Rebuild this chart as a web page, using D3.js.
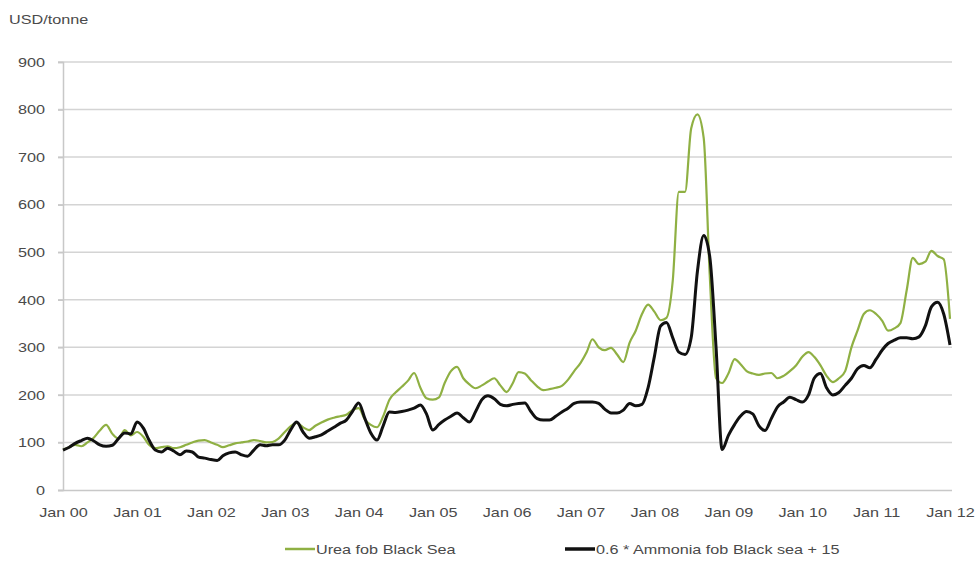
<!DOCTYPE html>
<html><head><meta charset="utf-8">
<script src="https://cdn.jsdelivr.net/npm/d3@7"></script>
<style>body{margin:0;background:#fff;}svg{display:block;font-family:"Liberation Sans",Arial,sans-serif;}</style>
</head><body>
<svg id="c" width="980" height="566"></svg>
<script>
const yTicks = [0,100,200,300,400,500,600,700,800,900];
const xTickLabels = ["Jan 00","Jan 01","Jan 02","Jan 03","Jan 04","Jan 05","Jan 06","Jan 07","Jan 08","Jan 09","Jan 10","Jan 11","Jan 12"];
const unitLabel = "USD/tonne";
const seriesNames = ["Urea fob Black Sea","0.6 * Ammonia fob Black sea + 15"];
// monthly values, Jan 2000 .. Jan 2012
const urea = [
 85,90,95,92,100,110,125,137,118,108,126,115,
 122,112,95,88,90,92,88,90,95,100,104,105,
 100,95,90,94,98,100,102,105,103,100,101,108,
 122,135,141,132,126,135,142,148,152,155,158,168,
 172,148,137,132,155,190,205,217,230,246,215,193,
 190,195,225,250,259,235,222,214,220,228,235,220,
 206,225,248,245,231,218,210,212,215,219,232,250,
 267,290,317,300,294,299,285,269,310,335,370,390,
 375,357,362,440,627,627,760,790,740,450,235,225,
 245,275,265,250,245,242,245,246,235,240,250,262,
 280,290,280,262,240,227,235,250,300,335,370,378,
 370,355,335,340,351,420,488,475,480,503,492,485,
 360];
const ammonia = [
 84,90,98,104,109,103,95,92,94,108,120,118,
 143,130,105,84,80,88,82,74,82,80,69,67,
 64,62,72,78,80,74,71,84,95,93,95,95,
 105,128,143,122,109,112,116,124,132,140,147,165,
 183,150,120,105,135,164,163,165,168,172,179,160,
 126,138,147,155,162,152,143,165,190,198,192,180,
 177,180,182,183,165,150,147,147,155,164,172,182,
 185,185,185,182,170,162,162,168,182,177,180,215,
 280,345,352,320,290,285,320,460,535,490,300,85,
 115,138,155,165,160,135,125,150,175,185,195,190,
 185,200,235,245,215,200,205,220,235,255,262,257,
 275,295,308,315,320,320,318,322,345,385,395,370,
 305];

const svg = d3.select("#c");
const m = {left:63, right:950, top:62, bottom:490};
const x = d3.scaleTime().domain([new Date(2000,0,1), new Date(2012,0,1)]).range([m.left, m.right]);
const y = d3.scaleLinear().domain([0,900]).range([m.bottom, m.top]);
const dates = urea.map((_,i)=>new Date(2000, i, 1));
const tickDates = xTickLabels.map((_,i)=>new Date(2000+i,0,1));
const txtColor = "#4a4a4a", fs = 13.5, stretch = 1.2;
function widen(sel){ sel.each(function(){ const w=this.getComputedTextLength(); d3.select(this).attr("textLength", w*stretch).attr("lengthAdjust","spacingAndGlyphs"); }); }

// gridlines
svg.append("g").selectAll("line").data(yTicks.filter(d=>d>0)).join("line")
  .attr("x1", m.left-5).attr("x2", m.right+2)
  .attr("y1", d=>y(d)).attr("y2", d=>y(d))
  .attr("stroke","#d4d4d4").attr("stroke-width",1.5);

// y axis
const ya = svg.append("g").attr("transform",`translate(${m.left},0)`)
  .call(d3.axisLeft(y).tickValues(yTicks).tickSize(5).tickFormat(d3.format("d")));
ya.select(".domain").attr("stroke","#c8c8c8").attr("stroke-width",1.5);
ya.selectAll(".tick line").attr("stroke","#c8c8c8").attr("stroke-width",1.5);
ya.selectAll("text").attr("fill",txtColor).attr("font-size",fs).attr("x",-18).call(widen);

// x axis
const xa = svg.append("g").attr("transform",`translate(0,${m.bottom})`)
  .call(d3.axisBottom(x).tickValues(tickDates).tickSize(0).tickFormat((d,i)=>xTickLabels[i]));
xa.select(".domain").attr("stroke","#c8c8c8").attr("stroke-width",1.5).attr("d",`M${m.left-5},0.5H${m.right+2}`);
xa.selectAll("text").attr("fill",txtColor).attr("font-size",fs).attr("y",17).attr("dy","0.71em").call(widen);

svg.append("text").attr("x",9).attr("y",24).attr("font-size",fs).attr("fill",txtColor).text(unitLabel).call(widen);

const line = d3.line().x((d,i)=>x(dates[i])).y(d=>y(d)).curve(d3.curveMonotoneX);
svg.append("path").datum(urea).attr("d",line).attr("fill","none").attr("stroke","#8fb043").attr("stroke-width",2.2).attr("stroke-linejoin","round");
svg.append("path").datum(ammonia).attr("d",line).attr("fill","none").attr("stroke","#111").attr("stroke-width",3).attr("stroke-linejoin","round");

// legend
const leg = [{name:seriesNames[0],color:"#8fb043",w:2.5,x:285},{name:seriesNames[1],color:"#111",w:3.5,x:565}];
const lg = svg.append("g").selectAll("g").data(leg).join("g").attr("transform",d=>`translate(${d.x},549)`);
lg.append("line").attr("x1",0).attr("x2",30).attr("stroke",d=>d.color).attr("stroke-width",d=>d.w);
lg.append("text").attr("x",31).attr("dy","0.35em").attr("font-size",fs).attr("fill",txtColor).text(d=>d.name).call(widen);
</script>
</body></html>
